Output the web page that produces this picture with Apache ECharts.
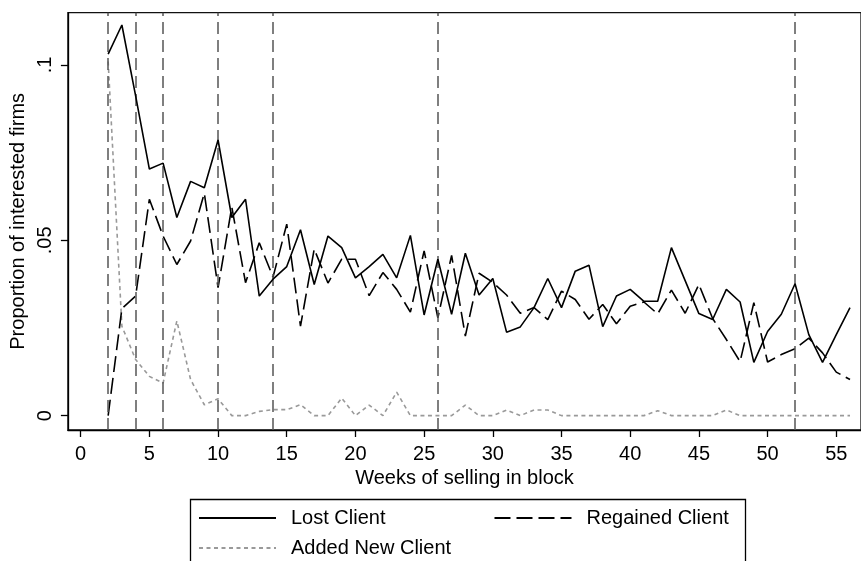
<!DOCTYPE html>
<html>
<head>
<meta charset="utf-8">
<script src="https://cdn.jsdelivr.net/npm/echarts@6/dist/echarts.min.js"></script>
<style>html,body{margin:0;padding:0;background:#fff}#c{width:861px;height:561px}</style>
</head>
<body>
<div id="c"></div>
<script>
const weeks = [2,3,4,5,6,7,8,9,10,11,12,13,14,15,16,17,18,19,20,21,22,23,24,25,26,27,28,29,30,31,32,33,34,35,36,37,38,39,40,41,42,43,44,45,46,47,48,49,50,51,52,53,54,55,56];
const lostClient = [0.1031,0.1114,0.0912,0.0703,0.0720,0.0565,0.0668,0.0650,0.0786,0.0565,0.0617,0.0341,0.0389,0.0425,0.0530,0.0374,0.0512,0.0479,0.0393,0.0425,0.0460,0.0393,0.0514,0.0287,0.0446,0.0289,0.0463,0.0344,0.0391,0.0238,0.0253,0.0308,0.0391,0.0308,0.0412,0.0429,0.0254,0.0341,0.0360,0.0326,0.0326,0.0479,0.0385,0.0291,0.0274,0.0360,0.0324,0.0152,0.0240,0.0289,0.0376,0.0231,0.0152,0.0231,0.0308];
const regainedClient = [0.0,0.0305,0.0341,0.0617,0.0512,0.0431,0.0498,0.0634,0.0365,0.0595,0.0379,0.0493,0.0395,0.0546,0.0255,0.0475,0.0378,0.0446,0.0446,0.0342,0.0408,0.0360,0.0295,0.0470,0.0279,0.0457,0.0227,0.0406,0.0380,0.0344,0.0292,0.0308,0.0274,0.0355,0.0331,0.0275,0.0317,0.0262,0.0312,0.0324,0.0290,0.0358,0.0292,0.0374,0.0277,0.0217,0.0154,0.0322,0.0153,0.0174,0.0191,0.0221,0.0179,0.0124,0.0103];
const addedNewClient = [0.101,0.0255,0.0160,0.0112,0.0093,0.0270,0.0103,0.0031,0.0048,0,0,0.0012,0.0017,0.0017,0.0031,0,0,0.0050,0,0.0030,0,0.0067,0,0,0,0,0.0030,0,0,0.0016,0,0.0016,0.0016,0,0,0,0,0,0,0,0.0014,0,0,0,0,0.0016,0,0,0,0,0,0,0,0,0];
const refWeeks = [2,4,6,10,14,26,52];
const xTickValues = [0,5,10,15,20,25,30,35,40,45,50,55];
const yTickValues = [0,0.05,0.1];
const yTickLabels = ['0','.05','.1'];

const FONT = 'Liberation Sans, Arial, Helvetica, sans-serif';
const pairs = arr => weeks.map((w,i)=>[w,arr[i]]);
const legendItemStyle = {color:'rgba(0,0,0,0)',borderWidth:0,borderColor:'rgba(0,0,0,0)'};

const chart = echarts.init(document.getElementById('c'));
chart.setOption({
  animation:false,
  backgroundColor:'#fff',
  textStyle:{fontFamily:FONT,color:'#000'},
  grid:{left:67,right:-6,top:12.7,bottom:131,show:true,borderColor:'#111',borderWidth:1.3,backgroundColor:'transparent'},
  xAxis:{
    type:'value',min:-0.93,max:56.8,
    name:'Weeks of selling in block',nameLocation:'middle',nameGap:37,
    nameTextStyle:{fontSize:20,fontFamily:FONT,color:'#000'},
    axisLine:{show:true,onZero:false,lineStyle:{color:'#000',width:1.3}},
    axisTick:{show:true,length:7,lineStyle:{color:'#000',width:1.3},customValues:xTickValues},
    axisLabel:{fontSize:20,fontFamily:FONT,color:'#000',margin:14,customValues:xTickValues},
    splitLine:{show:false}
  },
  yAxis:{
    type:'value',min:-0.0041,max:0.1149,
    name:'Proportion of interested firms',nameLocation:'middle',nameGap:35,nameRotate:90,
    nameTextStyle:{fontSize:20,fontFamily:FONT,color:'#000'},
    axisLine:{show:true,onZero:false,lineStyle:{color:'#000',width:1.3}},
    axisTick:{show:true,length:7,lineStyle:{color:'#000',width:1.3},customValues:yTickValues},
    axisLabel:{fontSize:20,fontFamily:FONT,color:'#000',margin:12,rotate:90,customValues:yTickValues,
      formatter:v=>{const i=yTickValues.findIndex(t=>Math.abs(t-v)<1e-9);return i>=0?yTickLabels[i]:'';}},
    splitLine:{show:false}
  },
  legend:[
    {data:['Lost Client','Regained Client'],left:198,top:508,padding:0,itemWidth:77,itemHeight:20,itemGap:108,
     itemStyle:legendItemStyle,
     textStyle:{fontSize:20,fontFamily:FONT,color:'#000',padding:[0,0,0,10]}},
    {data:['Added New Client'],left:198,top:538,padding:0,itemWidth:77,itemHeight:20,
     itemStyle:legendItemStyle,
     textStyle:{fontSize:20,fontFamily:FONT,color:'#000',padding:[0,0,0,10]}}
  ],
  graphic:[{type:'rect',shape:{x:190.5,y:499.5,width:555,height:90},style:{fill:'none',stroke:'#000',lineWidth:1.3},silent:true}],
  series:[
    {name:'refs',type:'line',data:[],symbol:'none',
     markLine:{silent:true,symbol:['none','none'],label:{show:false},
       lineStyle:{color:'#555',width:1.5,type:[12,6]},
       data:refWeeks.map(w=>({xAxis:w}))}},
    {name:'Added New Client',type:'line',data:pairs(addedNewClient),symbol:'none',
     lineStyle:{color:'#999',width:1.6,type:[4,3.5]},itemStyle:{color:'#999'},z:3},
    {name:'Regained Client',type:'line',data:pairs(regainedClient),symbol:'none',
     lineStyle:{color:'#000',width:1.6,type:[16,6]},itemStyle:{color:'#000'},z:4},
    {name:'Lost Client',type:'line',data:pairs(lostClient),symbol:'none',
     lineStyle:{color:'#000',width:1.6,type:'solid'},itemStyle:{color:'#000'},z:5}
  ]
});
</script>
</body>
</html>
